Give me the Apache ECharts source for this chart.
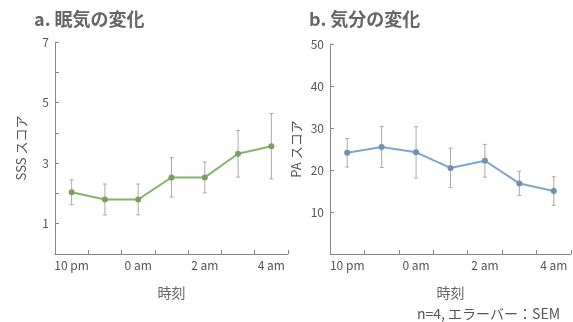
<!DOCTYPE html>
<html><head><meta charset="utf-8">
<script src="https://cdn.jsdelivr.net/npm/echarts@6/dist/echarts.min.js"></script>
<style>html,body{margin:0;padding:0;background:#fff}#c{width:573px;height:322px}</style>
</head><body><div id="c"></div>
<script>
const categories = ['10 pm','11 pm','0 am','1 am','2 am','3 am','4 am'];
const sssMean = [2.04, 1.80, 1.80, 2.53, 2.53, 3.31, 3.56];
const sssSem  = [0.41, 0.51, 0.51, 0.65, 0.51, 0.77, 1.08];
const paMean  = [24.1, 25.5, 24.2, 20.5, 22.2, 16.8, 15.0];
const paSem   = [3.4, 4.9, 6.1, 4.7, 3.9, 2.9, 3.4];
const sssTicks = [1, 3, 5, 7];
const paTicks = [10, 20, 30, 40, 50];

const FONT = '"Noto Sans CJK JP", "Noto Sans", sans-serif';
const chart = echarts.init(document.getElementById('c'), null, {renderer:'canvas'});

function errData(mean, sem){ return mean.map((m,i)=>[i, m-sem[i], m+sem[i]]); }
function errRender(params, api){
  const x = api.value(0);
  const lo = api.coord([x, api.value(1)]);
  const hi = api.coord([x, api.value(2)]);
  const cw = 2;
  const st = {stroke:'#aaaaaa', lineWidth:1};
  return {type:'group', children:[
    {type:'line', shape:{x1:lo[0],y1:lo[1],x2:hi[0],y2:hi[1]}, style:st},
    {type:'line', shape:{x1:lo[0]-cw,y1:lo[1],x2:lo[0]+cw,y2:lo[1]}, style:st},
    {type:'line', shape:{x1:hi[0]-cw,y1:hi[1],x2:hi[0]+cw,y2:hi[1]}, style:st}
  ]};
}
function xAxis(idx){
  return {gridIndex:idx, type:'category', data:categories, boundaryGap:true,
    axisLine:{lineStyle:{color:'#888', width:1}},
    axisTick:{show:true, inside:true, length:4, interval:0, lineStyle:{color:'#888'}},
    axisLabel:{interval:1, color:'#555', fontSize:12, fontFamily:FONT, margin:5},
    name:'時刻', nameLocation:'middle', nameGap:32,
    nameTextStyle:{color:'#666', fontSize:14, fontFamily:FONT}};
}
function yAxis(idx, max, interval, ticks, name){
  return {gridIndex:idx, type:'value', min:0, max:max, interval:interval,
    axisLine:{show:true, lineStyle:{color:'#888', width:1}},
    axisTick:{show:true, inside:true, length:4, lineStyle:{color:'#888'}},
    splitLine:{show:false},
    axisLabel:{color:'#555', fontSize:12, fontFamily:FONT, margin:6,
      formatter:v=> ticks.indexOf(v)>=0 ? String(v) : ''},
    name:name, nameLocation:'middle', nameGap:27, nameRotate:90,
    nameTextStyle:{color:'#555', fontSize:13, fontFamily:FONT}};
}

chart.setOption({
  animation:false,
  title:[
    {text:'a. 眠気の変化', left:29, top:5, textStyle:{color:'#666', fontSize:18, fontWeight:'bold', fontFamily:FONT}},
    {text:'b. 気分の変化', left:304, top:5, textStyle:{color:'#666', fontSize:18, fontWeight:'bold', fontFamily:FONT}},
    {text:'n=4, エラーバー：SEM', right:8, top:302, textStyle:{color:'#555', fontSize:14, fontWeight:'normal', fontFamily:FONT}}
  ],
  grid:[
    {left:55, width:233, top:42, height:212},
    {left:330, width:241, top:44, height:210}
  ],
  xAxis:[xAxis(0), xAxis(1)],
  yAxis:[yAxis(0, 7, 1, sssTicks, 'SSS スコア'), yAxis(1, 50, 10, paTicks, 'PA スコア')],
  series:[
    {type:'custom', xAxisIndex:0, yAxisIndex:0, data:errData(sssMean, sssSem), renderItem:errRender, z:1},
    {type:'line', xAxisIndex:0, yAxisIndex:0, data:sssMean, symbol:'circle', symbolSize:6,
      lineStyle:{color:'#86b46a', width:2}, itemStyle:{color:'#7a9e62'}, z:2},
    {type:'custom', xAxisIndex:1, yAxisIndex:1, data:errData(paMean, paSem), renderItem:errRender, z:1},
    {type:'line', xAxisIndex:1, yAxisIndex:1, data:paMean, symbol:'circle', symbolSize:6,
      lineStyle:{color:'#7aa6d0', width:2}, itemStyle:{color:'#6f8fb0'}, z:2}
  ]
});
</script></body></html>
